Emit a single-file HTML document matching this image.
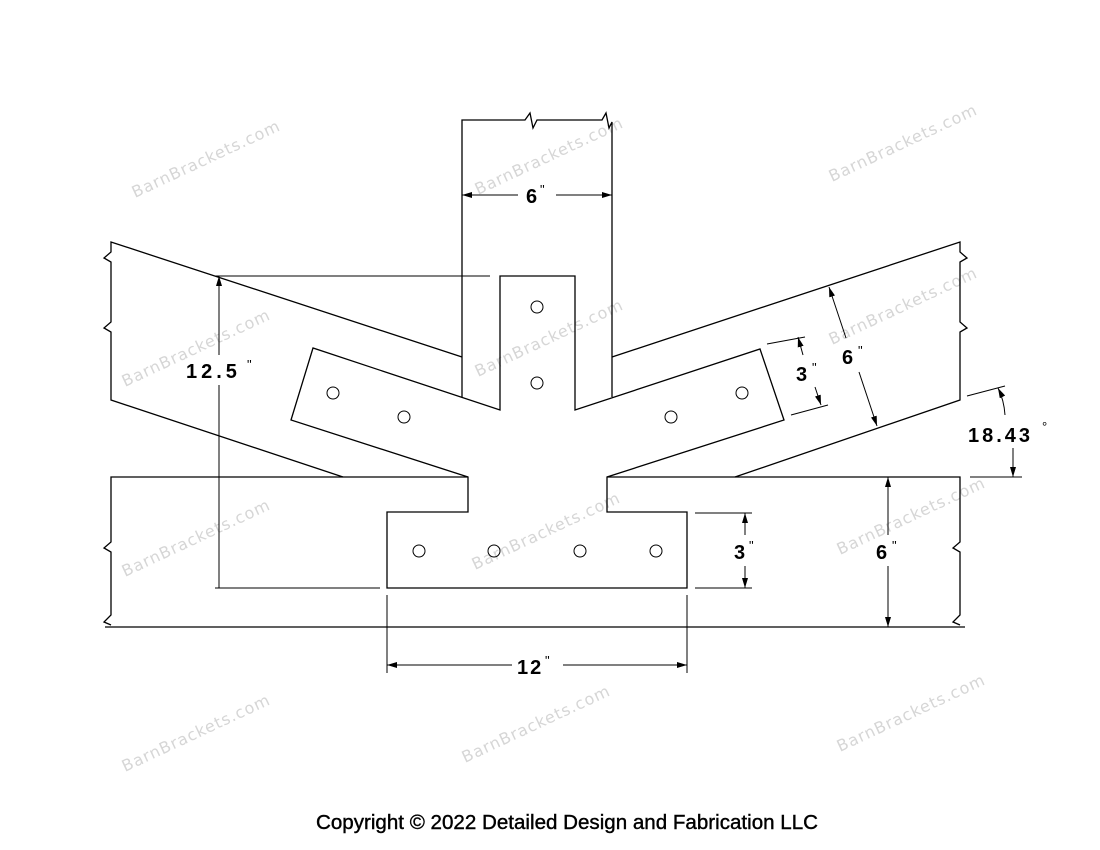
<!DOCTYPE html>
<html><head><meta charset="utf-8"><style>
html,body{margin:0;padding:0;background:#fff;}
svg{display:block;}
.l{stroke:#000;stroke-width:1.3;fill:none;}
.d{stroke:#000;stroke-width:1;fill:none;}
.t{font-family:"Liberation Sans",sans-serif;font-weight:bold;font-size:20px;fill:#000;}
.i{font-size:13px;font-weight:normal;}
.w{font-family:"DejaVu Sans","Liberation Sans",sans-serif;font-size:16px;fill:#d6d6d6;letter-spacing:1px;}
</style></head><body>
<svg width="1100" height="850" viewBox="0 0 1100 850" xmlns="http://www.w3.org/2000/svg">
<defs>
<marker id="a" viewBox="0 0 10 6" refX="10" refY="3" markerWidth="10" markerHeight="6" orient="auto-start-reverse" markerUnits="userSpaceOnUse"><path d="M0,0 L10,3 L0,6 z" fill="#000"/></marker>
</defs>
<g class="w">
<text transform="translate(135,198) rotate(-25)">BarnBrackets.com</text>
<text transform="translate(478,195) rotate(-25)">BarnBrackets.com</text>
<text transform="translate(832,182) rotate(-25)">BarnBrackets.com</text>
<text transform="translate(125,387) rotate(-25)">BarnBrackets.com</text>
<text transform="translate(478,377) rotate(-25)">BarnBrackets.com</text>
<text transform="translate(832,345) rotate(-25)">BarnBrackets.com</text>
<text transform="translate(125,577) rotate(-25)">BarnBrackets.com</text>
<text transform="translate(475,570) rotate(-25)">BarnBrackets.com</text>
<text transform="translate(840,555) rotate(-25)">BarnBrackets.com</text>
<text transform="translate(125,772) rotate(-25)">BarnBrackets.com</text>
<text transform="translate(465,763) rotate(-25)">BarnBrackets.com</text>
<text transform="translate(840,752) rotate(-25)">BarnBrackets.com</text>
</g>
<path class="l" d="M462,397 L462,120 L525,120 L530,113 L533,128 L537,120 L602,120 L606,113 L609,128 L612,122 L612,397"/>
<path class="l" d="M462,357 L111,242 L111,252 L104,258 L111,262 L111,322 L104,328 L111,332 L111,400 L343,477"/>
<path class="l" d="M612,357 L960,242 L960,252 L967,258 L960,262 L960,322 L967,328 L960,332 L960,400 L735,477"/>
<path class="l" d="M468,477 L111,477 L111,542 L104,548 L111,552 L111,615 L104,622 L111,625 M105,627 L965,627 M607,477 L960,477 L960,542 L953,548 L960,552 L960,615 L953,622 L960,625"/>
<path class="l" d="M313,348 L291,420 L468,477 L468,512 L387,512 L387,588 L687,588 L687,512 L607,512 L607,477 L784,420 L760,349 L575,410 L575,276 L500,276 L500,410 Z"/>
<g class="d">
<circle cx="537" cy="307" r="6"/><circle cx="537" cy="383" r="6"/>
<circle cx="333" cy="393" r="6"/><circle cx="404" cy="417" r="6"/>
<circle cx="671" cy="417" r="6"/><circle cx="742" cy="393" r="6"/>
<circle cx="419" cy="551" r="6"/><circle cx="494" cy="551" r="6"/>
<circle cx="580" cy="551" r="6"/><circle cx="656" cy="551" r="6"/>
</g>
<g class="d">
<line x1="462" y1="195" x2="518" y2="195" marker-start="url(#a)"/>
<line x1="556" y1="195" x2="612" y2="195" marker-end="url(#a)"/>
<line x1="215" y1="276" x2="490" y2="276"/>
<line x1="215" y1="588" x2="380" y2="588"/>
<line x1="219" y1="276" x2="219" y2="355" marker-start="url(#a)"/>
<line x1="219" y1="385" x2="219" y2="588"/>
<line x1="387" y1="595" x2="387" y2="673"/>
<line x1="687" y1="595" x2="687" y2="673"/>
<line x1="387" y1="665" x2="512" y2="665" marker-start="url(#a)"/>
<line x1="563" y1="665" x2="687" y2="665" marker-end="url(#a)"/>
<line x1="695" y1="513" x2="752" y2="513"/>
<line x1="695" y1="588" x2="752" y2="588"/>
<line x1="745" y1="513" x2="745" y2="535" marker-start="url(#a)"/>
<line x1="745" y1="566" x2="745" y2="588" marker-end="url(#a)"/>
<line x1="888" y1="477" x2="888" y2="535" marker-start="url(#a)"/>
<line x1="888" y1="566" x2="888" y2="627" marker-end="url(#a)"/>
<line x1="767" y1="344" x2="805" y2="337"/>
<line x1="791" y1="415" x2="828" y2="405"/>
<line x1="798" y1="337" x2="803" y2="355" marker-start="url(#a)"/>
<line x1="815" y1="387" x2="821" y2="405" marker-end="url(#a)"/>
<line x1="829" y1="287" x2="846" y2="338" marker-start="url(#a)"/>
<line x1="859" y1="372" x2="877" y2="426" marker-end="url(#a)"/>
<line x1="967" y1="396" x2="1005" y2="386"/>
<line x1="970" y1="477" x2="1022" y2="477"/>
<path d="M998,388 Q1004,400 1005,415" marker-start="url(#a)"/>
<line x1="1013" y1="448" x2="1013" y2="477" marker-end="url(#a)"/>
</g>
<g class="t">
<text x="526" y="203">6</text><text x="540" y="194" class="i">"</text>
<text x="186" y="378" letter-spacing="4">12.5</text><text x="247" y="369" class="i">"</text>
<text x="517" y="674" letter-spacing="2">12</text><text x="545" y="665" class="i">"</text>
<text x="734" y="559">3</text><text x="749" y="550" class="i">"</text>
<text x="876" y="559">6</text><text x="892" y="550" class="i">"</text>
<text x="796" y="381">3</text><text x="812" y="372" class="i">"</text>
<text x="842" y="364">6</text><text x="858" y="355" class="i">"</text>
<text x="968" y="442" letter-spacing="3">18.43</text><text x="1042" y="431" class="i">°</text>
</g>
<text x="316" y="829" textLength="502" lengthAdjust="spacingAndGlyphs" style="font-family:'Liberation Sans',sans-serif;font-size:20px;fill:#000;stroke:#000;stroke-width:0.4;">Copyright © 2022 Detailed Design and Fabrication LLC</text>
</svg>
</body></html>
